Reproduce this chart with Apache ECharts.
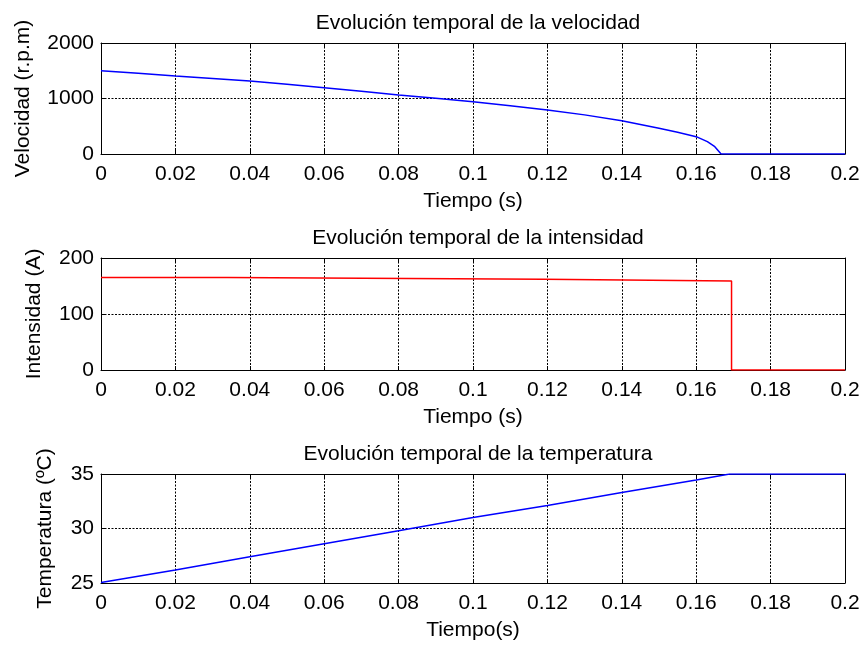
<!DOCTYPE html>
<html>
<head>
<meta charset="utf-8">
<script src="https://cdn.jsdelivr.net/npm/echarts@6/dist/echarts.min.js"></script>
<style>html,body{margin:0;padding:0;background:#fff;}#c{width:863px;height:648px;}</style>
</head>
<body>
<div id="c"></div>
<script>
// Data
const titles = ['Evolución temporal de la velocidad', 'Evolución temporal de la intensidad', 'Evolución temporal de la temperatura'];
const yNames = ['Velocidad (r.p.m)', 'Intensidad (A)', 'Temperatura (ºC)'];
const xNames = ['Tiempo (s)', 'Tiempo (s)', 'Tiempo(s)'];
const yMins = [0, 0, 25];
const yMaxs = [2000, 200, 35];
const yIntervals = [1000, 100, 5];
const xTicks = [0, 0.02, 0.04, 0.06, 0.08, 0.1, 0.12, 0.14, 0.16, 0.18, 0.2];

const velT = [0, 0.01, 0.02, 0.03, 0.04, 0.05, 0.06, 0.07, 0.08, 0.09, 0.1, 0.11, 0.12, 0.13, 0.14, 0.15, 0.155, 0.16, 0.163, 0.165, 0.1667, 0.2];
const velV = [1500, 1455, 1405, 1360, 1315, 1255, 1195, 1130, 1063, 1003, 942, 870, 793, 705, 600, 463, 390, 312, 222, 132, 0, 0];

const curT = [0, 0.034, 0.0345, 0.119, 0.1195, 0.1695, 0.1695, 0.2];
const curV = [165, 165, 162, 162, 159, 159, 0, 0];

const tempT = [0, 0.02, 0.04, 0.06, 0.08, 0.1, 0.12, 0.14, 0.16, 0.169, 0.2];
const tempV = [25.05, 26.2, 27.4, 28.6, 29.8, 31.0, 32.1, 33.3, 34.45, 35, 35];

const seriesT = [velT, curT, tempT];
const seriesV = [velV, curV, tempV];
const colors = ['#0000ff', '#ff0000', '#0000ff'];

const FONT = 'Liberation Sans, Arial, sans-serif';
const FS = 21;
const grids = [
  {left: 101, right: 18, top: 43, height: 111},
  {left: 101, right: 18, top: 258, height: 112},
  {left: 101, right: 18, top: 474, height: 109}
];
const yNameGaps = [67, 56, 45];

const xAxes = [], yAxes = [], series = [], titleArr = [];
const fmtX = v => String(+v.toFixed(2));
const fmtY = v => String(+v.toFixed(2));
for (let i = 0; i < 3; i++) {
  titleArr.push({
    text: titles[i], left: 473, top: grids[i].top - 35, textAlign: 'center',
    textStyle: {fontFamily: FONT, fontSize: FS, fontWeight: 'normal', color: '#000'}
  });
  xAxes.push({
    type: 'value', gridIndex: i, min: 0, max: 0.2, interval: 0.02,
    name: xNames[i], nameLocation: 'middle', nameGap: 37,
    nameTextStyle: {fontFamily: FONT, fontSize: FS, color: '#000'},
    axisLine: {show: true, onZero: false, lineStyle: {color: '#000', width: 1}},
    axisTick: {show: true, inside: true, length: 4, lineStyle: {color: '#000'}},
    axisLabel: {fontFamily: FONT, fontSize: FS, color: '#000', margin: 10, formatter: fmtX},
    splitLine: {show: true, lineStyle: {color: '#000', type: [2, 1.5], width: 1}}
  });
  xAxes.push({
    type: 'value', gridIndex: i, position: 'top', min: 0, max: 0.2, interval: 0.02,
    axisLine: {show: true, onZero: false, lineStyle: {color: '#000', width: 1}},
    axisTick: {show: true, inside: true, length: 4, lineStyle: {color: '#000'}},
    axisLabel: {show: false}, splitLine: {show: false}
  });
  yAxes.push({
    type: 'value', gridIndex: i, min: yMins[i], max: yMaxs[i], interval: yIntervals[i],
    name: yNames[i], nameLocation: 'middle', nameGap: yNameGaps[i], nameRotate: 90,
    nameTextStyle: {fontFamily: FONT, fontSize: FS, color: '#000'},
    axisLine: {show: true, onZero: false, lineStyle: {color: '#000', width: 1}},
    axisTick: {show: true, inside: true, length: 4, lineStyle: {color: '#000'}},
    axisLabel: {fontFamily: FONT, fontSize: FS, color: '#000', margin: 7, formatter: fmtY},
    splitLine: {show: true, lineStyle: {color: '#000', type: [2, 1.5], width: 1}}
  });
  yAxes.push({
    type: 'value', gridIndex: i, position: 'right', min: yMins[i], max: yMaxs[i], interval: yIntervals[i],
    axisLine: {show: true, onZero: false, lineStyle: {color: '#000', width: 1}},
    axisTick: {show: true, inside: true, length: 4, lineStyle: {color: '#000'}},
    axisLabel: {show: false}, splitLine: {show: false}
  });
  series.push({
    type: 'line', xAxisIndex: 2 * i, yAxisIndex: 2 * i,
    data: seriesT[i].map((t, k) => [t, seriesV[i][k]]),
    showSymbol: false, symbol: 'none', clip: true,
    lineStyle: {color: colors[i], width: 1.5}, animation: false
  });
}

const chart = echarts.init(document.getElementById('c'), null, {renderer: 'canvas'});
chart.setOption({
  backgroundColor: '#fff', animation: false,
  title: titleArr, grid: grids, xAxis: xAxes, yAxis: yAxes, series: series
});
</script>
</body>
</html>
